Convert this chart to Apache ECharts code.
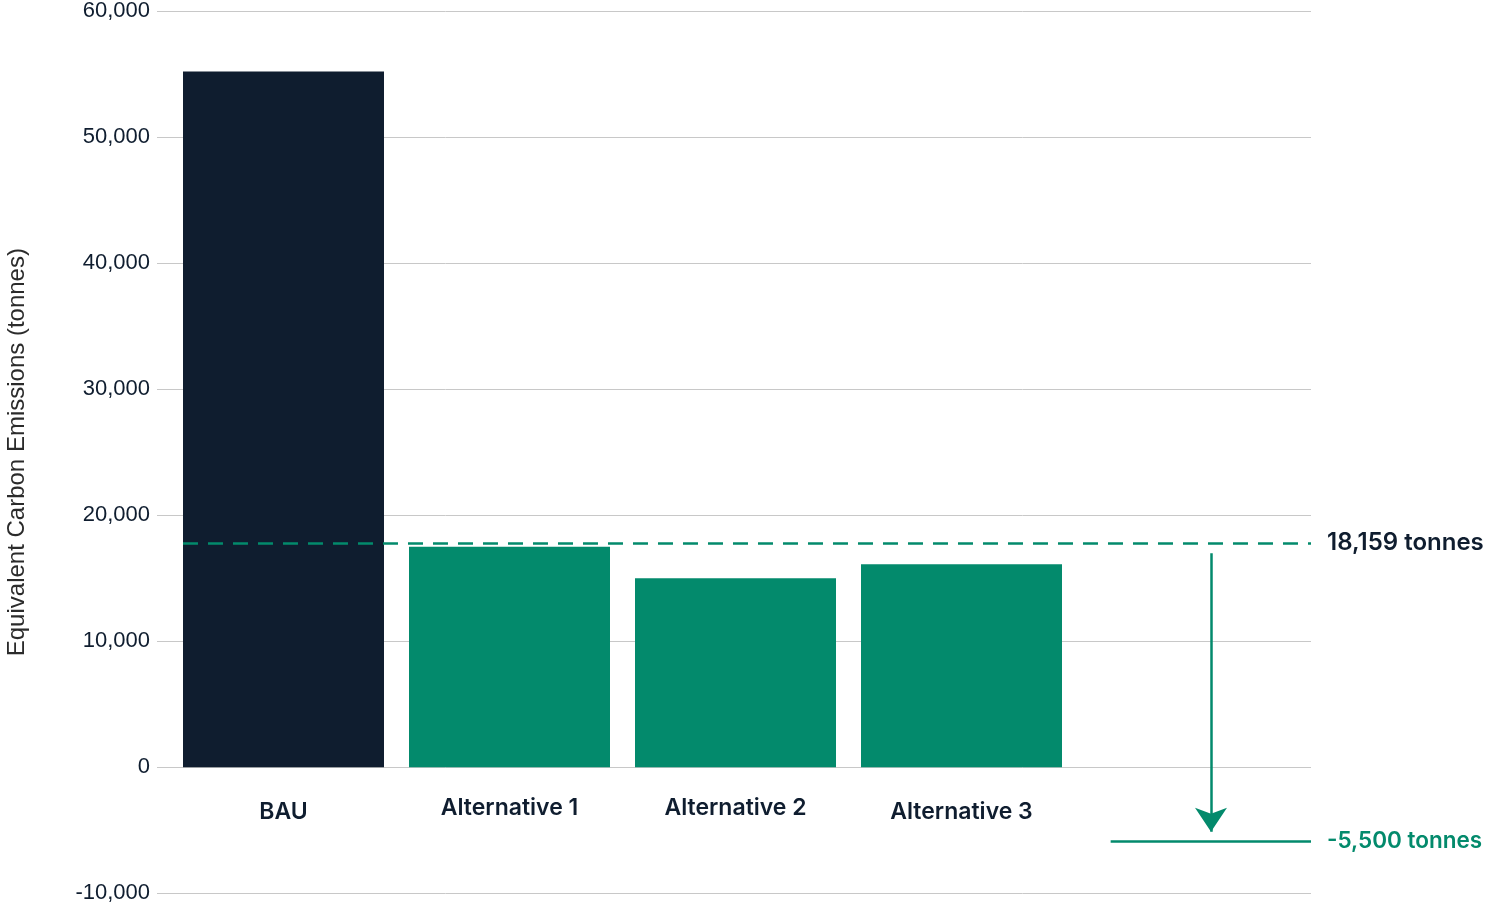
<!DOCTYPE html>
<html>
<head>
<meta charset="utf-8">
<script src="https://cdn.jsdelivr.net/npm/echarts@6/dist/echarts.min.js"></script>
<style>
html,body{margin:0;padding:0;background:#fff;}
#chart{width:1486px;height:903px;}
</style>
</head>
<body>
<div id="chart"></div>
<script>
// ---- data ----
const categories = ['BAU', 'Alternative 1', 'Alternative 2', 'Alternative 3', ''];
const emissions = [55200, 17500, 15000, 16100, null];
const yTicks = { min: -10000, max: 60000, interval: 10000 };
const targetLevel = 17780;          // dashed reference line position
const targetLabel = '18,159 tonnes';
const reductionLevel = -5900;       // solid line position
const reductionLabel = '-5,500 tonnes';
const arrowTop = 16980;
const arrowTip = -5110;

const NAVY = '#0f1d2f';
const GREEN = '#038a6c';
const FONT = 'Inter';

const chart = echarts.init(document.getElementById('chart'), null, { renderer: 'canvas' });

const barColors = categories.map((c, i) => i === 0 ? NAVY : GREEN);
const labelOffsets = [4, 0, 0, 4, 0];

const option = {
  animation: false,
  backgroundColor: '#ffffff',
  grid: [
    { left: 157, right: 175, top: 11, bottom: 9.7, outerBoundsMode: 'none', containLabel: false },
    { left: 170.5, right: 185.5, top: 11, bottom: 135.7, outerBoundsMode: 'none', containLabel: false }
  ],
  xAxis: [
    { type: 'value', gridIndex: 0, min: -0.0597, max: 5.0465, show: false },
    {
      type: 'category', gridIndex: 1, position: 'bottom',
      data: categories.map((c, i) => ({ value: c, textStyle: { padding: [labelOffsets[i], 0, 0, 0] } })),
      axisLine: { show: false, onZero: false }, axisTick: { show: false },
      axisLabel: { color: NAVY, fontFamily: FONT, fontWeight: 600, fontSize: 23, margin: 29 }
    }
  ],
  yAxis: [
    {
      type: 'value', gridIndex: 0, min: yTicks.min, max: yTicks.max, interval: yTicks.interval,
      name: 'Equivalent Carbon Emissions (tonnes)', nameLocation: 'middle', nameGap: 128,
      nameTextStyle: { color: '#2b2b2b', fontFamily: 'Liberation Sans', fontSize: 24 },
      axisLine: { show: false }, axisTick: { show: false },
      axisLabel: {
        color: NAVY, fontFamily: 'Liberation Sans', fontSize: 22, margin: 7,
        padding: [6, 0, 0, 0],
        formatter: v => v.toLocaleString('en-US')
      },
      splitLine: { lineStyle: { color: '#c8c8c8', width: 1 } }
    },
    { type: 'value', gridIndex: 1, min: 0, max: yTicks.max, show: false }
  ],
  series: [
    {
      type: 'bar', xAxisIndex: 1, yAxisIndex: 1, barWidth: 201,
      data: emissions.map((v, i) => ({ value: v, itemStyle: { color: barColors[i] } })),
      z: 2
    },
    {
      type: 'line', xAxisIndex: 0, yAxisIndex: 0, data: [], z: 5,
      markLine: {
        silent: true,
        animation: false,
        data: [
          [
            { coord: [0.0553, targetLevel], symbol: 'none',
              lineStyle: { color: GREEN, type: [15, 10], width: 2.5 },
              label: { show: true, position: 'end', formatter: targetLabel, color: NAVY, fontFamily: FONT, fontWeight: 600, fontSize: 24, distance: 16, padding: [12, 0, 0, 0] } },
            { coord: [5.0465, targetLevel], symbol: 'none' }
          ],
          [
            { coord: [4.604, arrowTop], symbol: 'none',
              lineStyle: { color: GREEN, type: 'solid', width: 2.5 }, label: { show: false } },
            { coord: [4.604, arrowTip], symbol: 'arrow', symbolSize: [24, 24] }
          ],
          [
            { coord: [4.16, reductionLevel], symbol: 'none',
              lineStyle: { color: GREEN, type: 'solid', width: 2.5 },
              label: { show: true, position: 'end', formatter: reductionLabel, color: GREEN, fontFamily: FONT, fontWeight: 600, fontSize: 22.5, distance: 16, padding: [10, 0, 0, 0] } },
            { coord: [5.0465, reductionLevel], symbol: 'none' }
          ]
        ]
      }
    }
  ]
};
chart.setOption(option);
</script>
</body>
</html>
